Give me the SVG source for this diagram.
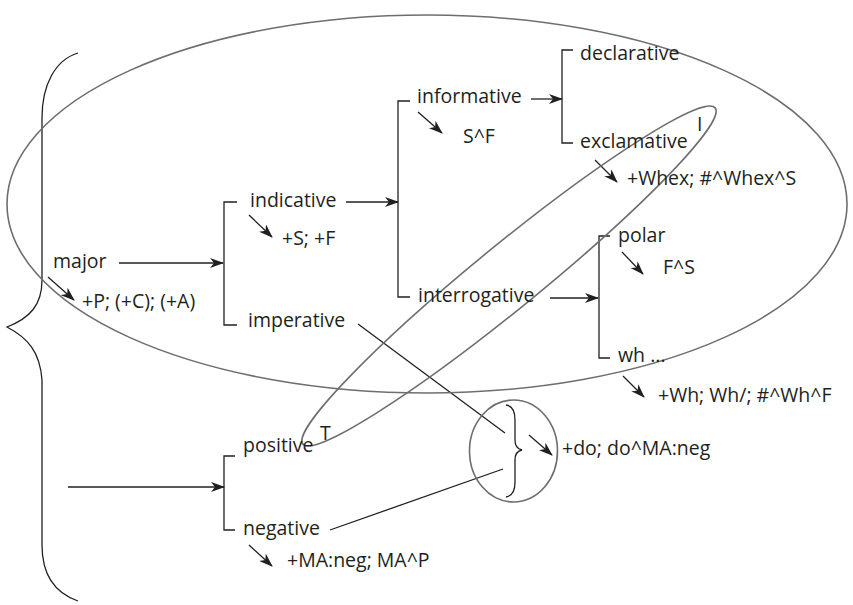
<svg xmlns="http://www.w3.org/2000/svg" width="853" height="605" viewBox="0 0 853 605">
  <style>
    text { font-family: "Open Sans", "Liberation Sans", sans-serif; font-size: 19.5px; fill: #231f20; }
    .ln { fill: none; stroke: #231f20; stroke-width: 1.3; }
    .arr { fill: none; stroke: #231f20; stroke-width: 1.3; marker-end: url(#head); }
    .ring { fill: none; stroke: #6d6e71; stroke-width: 1.6; }
  </style>
  <defs>
    <marker id="head" viewBox="0 0 14 10" markerWidth="14" markerHeight="10" refX="13" refY="5" orient="auto" markerUnits="userSpaceOnUse">
      <path d="M0,0 L14,5 L0,10 L4,5 Z" fill="#231f20"/>
    </marker>
  </defs>

  <rect width="853" height="605" fill="#ffffff"/>

  <!-- connectors: system brackets, entry arrows, realisation arrows -->
  <g id="connectors">
    <!-- outer brace grouping both systems -->
    <path class="ln" d="M78,53 C55,60 42,85 42,118 L42,280 C42,305 30,318 7,327 C28,338 40,352 42,380 L42,545 C42,575 55,593 78,601"/>

    <!-- major -> indicative / imperative -->
    <path class="arr" d="M119,263 L223,263"/>
    <path class="ln" d="M237,202 L224,202 L224,325 L237,325"/>

    <!-- indicative -> informative / interrogative -->
    <path class="arr" d="M346,202 L398,202"/>
    <path class="ln" d="M410,101 L398,101 L398,297 L410,297"/>

    <!-- informative -> declarative / exclamative -->
    <path class="arr" d="M531,99 L562,99"/>
    <path class="ln" d="M573,50 L562,50 L562,143 L573,143"/>

    <!-- interrogative -> polar / wh -->
    <path class="arr" d="M550,298 L598,298"/>
    <path class="ln" d="M610,236 L599,236 L599,358 L610,358"/>

    <!-- polarity -> positive / negative -->
    <path class="arr" d="M68,487 L224,487"/>
    <path class="ln" d="M235,456 L224,456 L224,530 L235,530"/>

    <!-- realisation arrows -->
    <path class="arr" d="M48,277 L74,300"/>
    <path class="arr" d="M249,215 L272,237"/>
    <path class="arr" d="M418,112 L442,133"/>
    <path class="arr" d="M595,160 L617,182"/>
    <path class="arr" d="M622,252 L643,274"/>
    <path class="arr" d="M623,376 L644,397"/>
    <path class="arr" d="M249,545 L272,566"/>
    <path class="arr" d="M529,435 L552,455"/>

    <!-- imperative and negative joined by a brace -->
    <path class="ln" d="M358,324 L505,433"/>
    <path class="ln" d="M330,530 L503,469"/>
    <path class="ln" d="M506,405 C513,406 515,412 515,420 L515,440 C515,446 517,449 522,450 C517,451 515,454 515,460 L515,482 C515,490 513,496 506,497"/>
  </g>

  <!-- grouping rings -->
  <g id="rings">
    <ellipse class="ring" cx="427" cy="204" rx="420" ry="189"/>
    <ellipse class="ring" cx="509" cy="276" rx="266" ry="32" transform="rotate(-39.2 509 276)"/>
    <ellipse class="ring" cx="513.5" cy="451" rx="44" ry="51"/>
  </g>

  <g id="major"><text x="53" y="268">major</text><text x="82" y="308">+P; (+C); (+A)</text></g>
  <g id="indicative"><text x="250" y="207">indicative</text><text x="282" y="245">+S; +F</text></g>
  <g id="imperative"><text x="248" y="327">imperative</text></g>
  <g id="informative"><text x="417" y="103">informative</text><text x="463" y="143">S^F</text></g>
  <g id="interrogative"><text x="418" y="302">interrogative</text></g>
  <g id="declarative"><text x="580" y="60">declarative</text></g>
  <g id="exclamative"><text x="580" y="148">exclamative</text><text x="627" y="185">+Whex; #^Whex^S</text><text x="697" y="131">I</text></g>
  <g id="polar"><text x="618" y="242">polar</text><text x="663" y="274">F^S</text></g>
  <g id="wh"><text x="618" y="362">wh ...</text><text x="658" y="402">+Wh; Wh/; #^Wh^F</text></g>
  <g id="positive"><text x="243" y="452">positive</text><text x="320" y="440">T</text></g>
  <g id="negative"><text x="243" y="535">negative</text><text x="287" y="567">+MA:neg; MA^P</text></g>
  <g id="do-support"><text x="562" y="455">+do; do^MA:neg</text></g>
</svg>
